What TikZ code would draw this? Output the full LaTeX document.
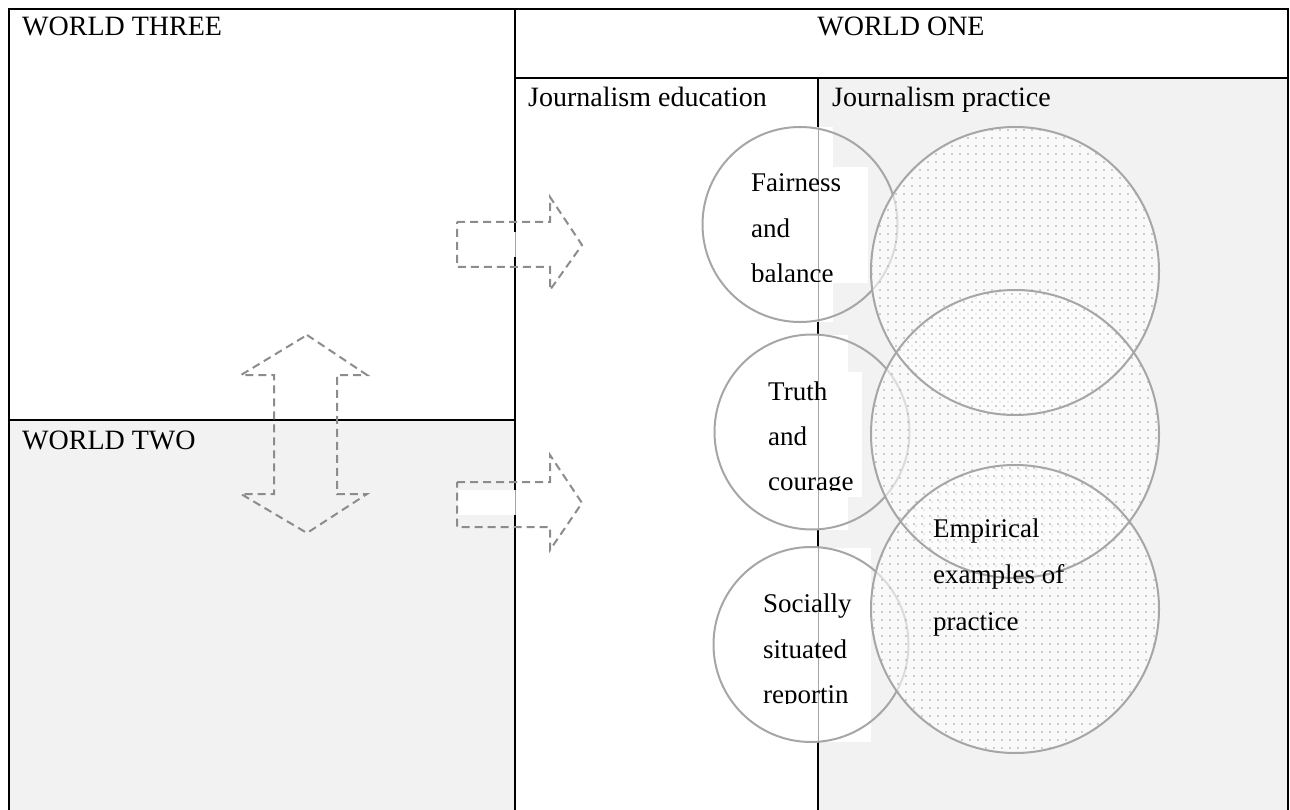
\documentclass[tikz,border=0pt]{standalone}
\usepackage{fontspec}
\setmainfont{Liberation Serif}
\usetikzlibrary{patterns.meta}

\definecolor{panelgray}{HTML}{F2F2F2}
\definecolor{rimgray}{HTML}{A6A6A6}
\definecolor{dashgray}{HTML}{8C8C8C}
\definecolor{dotgray}{HTML}{A2A2A2}

\begin{document}
\begin{tikzpicture}[x=1pt,y=-1pt,
  every node/.style={inner sep=0pt, font=\fontsize{27}{32}\selectfont, text=black},
  txt/.style={anchor=base west},
  head/.style={font=\fontsize{28}{33}\selectfont},
  rule/.style={draw=black, line width=2pt},
  hollowarrow/.style={draw=dashgray, line width=2pt, dash pattern=on 8pt off 5pt, line join=miter},
  ring/.style={draw=rimgray, line width=2pt},
  veil/.style={fill=white, fill opacity=0.6},
  dotfill/.style={pattern={Dots[radius=0.9pt, distance=8pt, #1]}, pattern color=dotgray},
  thinrule/.style={draw=rimgray, line width=1pt}
]
\useasboundingbox (0,0) rectangle (1290,810);

% shaded panels
\fill[panelgray] (515,420) rectangle (9,810);
\fill[panelgray] (818,78) rectangle (1288,810);

% table rules
\coordinate (tl) at (9,9);
\coordinate (tr) at (1288,9);
\coordinate (bl) at (9,810);
\coordinate (br) at (1288,810);
\coordinate (midtop) at (515,9);
\coordinate (midbot) at (515,810);
\coordinate (splitL) at (9,420);
\coordinate (splitR) at (515,420);
\coordinate (headL) at (515,78);
\coordinate (headR) at (1288,78);
\coordinate (eduTop) at (818,78);
\coordinate (eduBot) at (818,810);
\draw[rule] (bl) -- (tl) -- (tr) -- (br);
\draw[rule] (midtop) -- (midbot);
\draw[rule] (splitL) -- (splitR);
\draw[rule] (headL) -- (headR);
\draw[rule] (eduTop) -- (eduBot);

% block arrows
\draw[hollowarrow] (457,222) -- (550,222) -- (550,197) -- (582,245) -- (550,290) -- (550,267) -- (457,267) -- cycle;
\fill[white] (458,490) rectangle (514,515);
\draw[hollowarrow] (457,482) -- (550,482) -- (550,455) -- (582,503) -- (550,550) -- (550,527) -- (457,527) -- cycle;
\draw[hollowarrow] (307,335) -- (367,375) -- (337,375) -- (337,494) -- (367,494) -- (307,533) -- (241,494) -- (274,494) -- (274,375) -- (241,375) -- cycle;
\fill[white] (513,232) rectangle (517,257);
\draw[thinrule] (515,232) -- (515,257);
\fill[white] (513,490) rectangle (517,515);
\draw[thinrule] (515,490) -- (515,515);

% text boxes over the column rule
\fill[white] (790,127) rectangle (833,322);
\fill[white] (790,167) rectangle (868,283);
\fill[white] (790,335) rectangle (848,530);
\fill[white] (790,372) rectangle (862,497);
\fill[white] (790,548) rectangle (871,742);
\draw[thinrule] (818,127) -- (818,322);
\draw[thinrule] (818,335) -- (818,530);
\draw[thinrule] (818,548) -- (818,742);

% value circles
\draw[ring] (800,224.5) circle[radius=97.5];
\draw[ring] (812,432) circle[radius=97.5];
\draw[ring] (811,644.5) circle[radius=97.5];

% practice circles
\fill[veil] (1015,271) circle[radius=144];
\fill[dotfill={xshift=0pt, yshift=0pt}] (1015,271) circle[radius=144];
\fill[veil] (1015,434) circle[radius=144];
\fill[dotfill={xshift=4pt, yshift=4pt}] (1015,434) circle[radius=144];
\fill[veil] (1015,609) circle[radius=144];
\fill[dotfill={xshift=2pt, yshift=6pt}] (1015,609) circle[radius=144];
\draw[ring] (1015,271) circle[radius=144];
\draw[ring] (1015,434) circle[radius=144];
\draw[ring] (1015,609) circle[radius=144];

% headings
\node[txt, head] (w3) at (22,36) {WORLD THREE};
\node[anchor=base, head] (w1) at (901,36) {WORLD ONE};
\node[txt, head] (w2) at (22,449) {WORLD TWO};
\node[txt, head] (je) at (528,107) {Journalism education};
\node[txt, head] (jp) at (832,107) {Journalism practice};

% circle labels, clipped at the foot of their text boxes
\node[txt] (fa1) at (751,192) {Fairness};
\node[txt] (fa2) at (751,238) {and};
\begin{scope}
\clip (700,150) rectangle (900,282);
\node[txt] (fa3) at (751,283) {balance};
\end{scope}
\node[txt] (tr1) at (768,400) {Truth};
\node[txt] (tr2) at (768,445.5) {and};
\begin{scope}
\clip (700,360) rectangle (900,490);
\node[txt] (tr3) at (768,490.5) {courage};
\end{scope}
\node[txt] (so1) at (763,612) {Socially};
\node[txt] (so2) at (763,658) {situated};
\begin{scope}
\clip (700,570) rectangle (900,703);
\node[txt] (so3) at (763,703) {reportin};
\end{scope}
\node[txt] (em1) at (933,537) {Empirical};
\node[txt] (em2) at (933,583) {examples of};
\node[txt] (em3) at (933,630) {practice};
\end{tikzpicture}
\end{document}
